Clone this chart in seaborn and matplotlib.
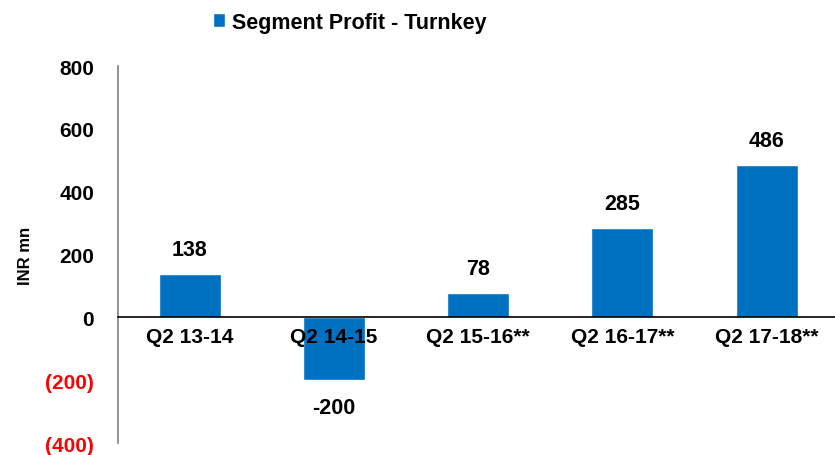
import pandas as pd
import seaborn as sns
import matplotlib.pyplot as plt

quarters = ['Q2 13-14', 'Q2 14-15', 'Q2 15-16**', 'Q2 16-17**', 'Q2 17-18**']
profit = [138, -200, 78, 285, 486]
yticks = [-400, -200, 0, 200, 400, 600, 800]

sns.set_theme(style='white')
plt.rcParams['font.family'] = ['Liberation Sans', 'DejaVu Sans']
plt.rcParams['font.weight'] = 'bold'
plt.rcParams['text.color'] = 'black'
plt.rcParams['xtick.color'] = 'black'
plt.rcParams['ytick.color'] = 'black'
plt.rcParams['axes.labelcolor'] = 'black'

df = pd.DataFrame({'quarter': quarters, 'profit': profit})

fig = plt.figure(figsize=(8.35, 4.56), dpi=100)
ax = fig.add_axes([0.141, 0.026, 0.86, 0.827])
sns.barplot(data=df, x='quarter', y='profit', color='#0070C0', saturation=1,
            width=0.43, ax=ax, label='Segment Profit - Turnkey')
ax.set_axisbelow(False)

ax.set_ylim(-400, 800)
ax.set_xlim(-0.5, 4.48)
ax.set_yticks(yticks)
ax.set_yticklabels([f'({-v})' if v < 0 else str(v) for v in yticks], fontsize=15, fontweight='bold')
for lbl, v in zip(ax.get_yticklabels(), yticks):
    if v < 0:
        lbl.set_color('red')
ax.tick_params(axis='y', length=0, pad=17)
ax.tick_params(axis='x', length=0, pad=7, labelsize=15)
for lbl in ax.get_xticklabels():
    lbl.set_fontweight('bold')

ax.spines['bottom'].set_position(('data', 0))
ax.spines['bottom'].set_color('black')
ax.spines['bottom'].set_linewidth(1.2)
ax.spines['left'].set_color('#808080')
ax.spines['left'].set_linewidth(1.2)
ax.spines['top'].set_visible(False)
ax.spines['right'].set_visible(False)

ax.set_xlabel('')
ax.set_ylabel('INR mn', fontsize=12, fontweight='bold', labelpad=9)

for i, v in enumerate(profit):
    if v >= 0:
        ax.annotate(str(v), (i, v), xytext=(0, 10), textcoords='offset points',
                    ha='center', va='bottom', fontsize=15.5, fontweight='bold')
    else:
        ax.annotate(str(v), (i, v), xytext=(0, -12), textcoords='offset points',
                    ha='center', va='top', fontsize=15.5, fontweight='bold')

ax.legend(loc='upper left', bbox_to_anchor=(0.105, 1.195), frameon=False,
          handlelength=0.6, handleheight=0.6, handletextpad=0.3,
          prop={'size': 15.5, 'weight': 'bold'})

fig.savefig('out.png', dpi=100)
